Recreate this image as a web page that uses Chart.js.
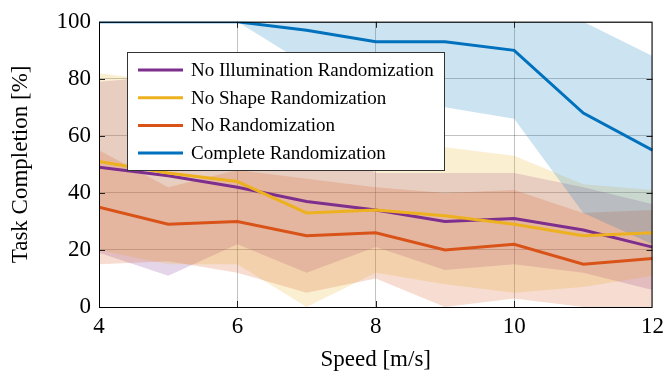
<!DOCTYPE html>
<html>
<head>
<meta charset="utf-8">
<script src="https://cdn.jsdelivr.net/npm/chart.js@4.4.1/dist/chart.umd.min.js"></script>
<style>
  html, body { margin: 0; padding: 0; background: #fff; }
  canvas { display: block; }
</style>
</head>
<body>
<canvas id="completionChart" width="670" height="372"></canvas>
<script>
// Speeds on the x axis
const speeds = [4, 5, 6, 7, 8, 9, 10, 11, 12]
const xTicks = [4, 6, 8, 10, 12]
const yTicks = [0, 20, 40, 60, 80, 100]

// No Illumination Randomization
const illumMean = [49, 46, 42, 37, 34, 30, 31, 27, 21]
const illumLo = [19, 11, 22, 12, 21, 13, 15, 12, 6]
const illumHi = [79, 81, 62, 62, 47, 47, 47, 42, 36]

// No Shape Randomization
const shapeMean = [51, 47, 44, 33, 34, 32, 29, 25, 26]
const shapeLo = [20, 15, 15, 0, 12, 8, 5, 7, 11]
const shapeHi = [82, 79, 73, 66, 56, 56, 53, 43, 41]

// No Randomization
const noneMean = [35, 29, 30, 25, 26, 20, 22, 15, 17]
const noneLo = [15, 16, 12, 5, 10, 0, 3, 0, 0]
const noneHi = [55, 42, 48, 45, 42, 40, 41, 33, 34]

// Complete Randomization
const fullMean = [100, 100, 100, 97, 93, 93, 90, 68, 55]
const fullLo = [100, 100, 100, 85, 73, 70, 66, 33, 22]
const fullHi = [100, 100, 100, 100, 100, 100, 100, 100, 88]

const seriesNames = [
  "No Illumination Randomization",
  "No Shape Randomization",
  "No Randomization",
  "Complete Randomization",
]
const seriesColors = ["#7E2F8E", "#EDB120", "#D95319", "#0072BD"]
const bandColors = [
  "rgba(126, 47, 142, 0.2)",
  "rgba(237, 177, 32, 0.2)",
  "rgba(217, 83, 25, 0.2)",
  "rgba(0, 114, 189, 0.2)",
]

const serif = "'Liberation Serif', 'DejaVu Serif', serif"

function toPoints(values) {
  return speeds.map((s, i) => ({ x: s, y: values[i] }))
}

// build datasets: for each series a lo/hi band and the mean line
const series = [
  [illumMean, illumLo, illumHi],
  [shapeMean, shapeLo, shapeHi],
  [noneMean, noneLo, noneHi],
  [fullMean, fullLo, fullHi],
]

const datasets = []
series.forEach(([mean, lo, hi], k) => {
  const loIndex = datasets.length
  datasets.push({
    label: "lo",
    data: toPoints(lo),
    borderWidth: 0,
    pointRadius: 0,
    fill: false,
    order: 20 - k * 2,
  })
  datasets.push({
    label: "hi",
    data: toPoints(hi),
    borderWidth: 0,
    pointRadius: 0,
    backgroundColor: bandColors[k],
    fill: loIndex,
    order: 20 - k * 2,
  })
})
series.forEach(([mean], k) => {
  datasets.push({
    label: seriesNames[k],
    data: toPoints(mean),
    borderColor: seriesColors[k],
    borderWidth: 3,
    pointRadius: 0,
    fill: false,
    order: 8 - k,
  })
})

// frame and inward tick marks like pgfplots
const framePlugin = {
  id: "frame",
  afterDatasetsDraw(chart) {
    const { ctx, chartArea: a, scales } = chart
    ctx.save()
    ctx.strokeStyle = "#222"
    ctx.lineWidth = 1
    ctx.beginPath()
    yTicks.slice(1, -1).forEach((v) => {
      const py = Math.round(scales.y.getPixelForValue(v)) + 0.5
      ctx.moveTo(a.left, py)
      ctx.lineTo(a.left + 6, py)
      ctx.moveTo(a.right - 6, py)
      ctx.lineTo(a.right, py)
    })
    xTicks.slice(1, -1).forEach((v) => {
      const px = Math.round(scales.x.getPixelForValue(v)) + 0.5
      ctx.moveTo(px, a.bottom)
      ctx.lineTo(px, a.bottom - 6)
      ctx.moveTo(px, a.top)
      ctx.lineTo(px, a.top + 6)
    })
    ctx.stroke()
    ctx.strokeStyle = "#000"
    ctx.strokeRect(a.left + 0.5, a.top + 0.5, a.right - a.left - 1, a.bottom - a.top)
    ctx.restore()
  },
}

// boxed legend inside the plot area
const legendPlugin = {
  id: "boxLegend",
  afterDraw(chart) {
    const ctx = chart.ctx
    const box = { x: 127.5, y: 52.5, w: 317, h: 118 }
    ctx.save()
    ctx.fillStyle = "#fff"
    ctx.fillRect(box.x, box.y, box.w, box.h)
    ctx.strokeStyle = "#333"
    ctx.lineWidth = 1
    ctx.strokeRect(box.x, box.y, box.w, box.h)
    ctx.font = "19px " + serif
    ctx.textBaseline = "middle"
    seriesNames.forEach((name, k) => {
      const cy = 70 + k * 27.7
      ctx.strokeStyle = seriesColors[k]
      ctx.lineWidth = 3
      ctx.beginPath()
      ctx.moveTo(138, cy)
      ctx.lineTo(183, cy)
      ctx.stroke()
      ctx.fillStyle = "#000"
      ctx.fillText(name, 191, cy + 1)
    })
    ctx.restore()
  },
}

new Chart(document.getElementById("completionChart"), {
  type: "line",
  data: { datasets },
  options: {
    responsive: false,
    animation: false,
    layout: { padding: { top: 19, right: 14, left: 0, bottom: 0 } },
    plugins: {
      legend: { display: false },
      tooltip: { enabled: false },
    },
    scales: {
      x: {
        type: "linear",
        min: 4,
        max: 12,
        afterBuildTicks: (scale) => {
          scale.ticks = xTicks.map((v) => ({ value: v }))
        },
        afterFit: (scale) => {
          scale.height = 65
        },
        grid: { color: "rgba(0,0,0,0.24)", drawTicks: false },
        border: { display: false },
        ticks: { color: "#000", padding: 6, maxRotation: 0, font: { family: serif, size: 23 } },
        title: {
          display: true,
          text: "Speed [m/s]",
          color: "#000",
          padding: { top: 0, bottom: -2 },
          font: { family: serif, size: 23 },
        },
      },
      y: {
        min: 0,
        max: 100,
        afterBuildTicks: (scale) => {
          scale.ticks = yTicks.map((v) => ({ value: v }))
        },
        afterFit: (scale) => {
          scale.width = 99
        },
        grid: { color: "rgba(0,0,0,0.24)", drawTicks: false },
        border: { display: false },
        ticks: { color: "#000", padding: 8, font: { family: serif, size: 23 } },
        title: {
          display: true,
          text: "Task Completion [%]",
          color: "#000",
          padding: { top: 7, bottom: 0 },
          font: { family: serif, size: 23 },
        },
      },
    },
  },
  plugins: [framePlugin, legendPlugin],
})
</script>
</body>
</html>
